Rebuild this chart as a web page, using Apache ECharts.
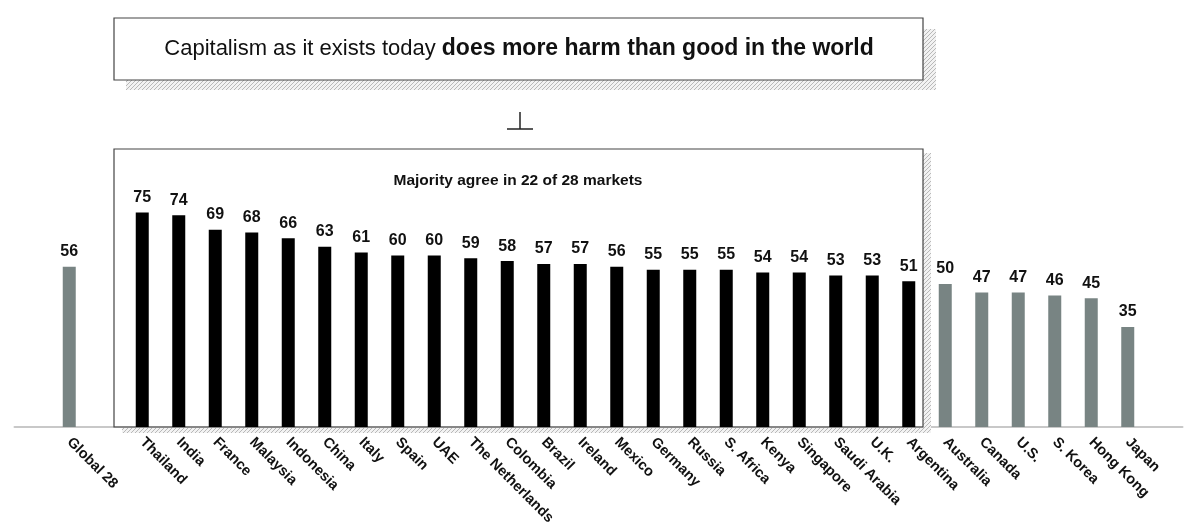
<!DOCTYPE html>
<html>
<head>
<meta charset="utf-8">
<script src="https://cdn.jsdelivr.net/npm/echarts@6/dist/echarts.min.js"></script>
<style>
  html, body { margin: 0; padding: 0; background: #fff; }
  #chart { width: 1200px; height: 529px; }
</style>
</head>
<body>
<div id="chart"></div>
<script>
// '' entries are spacer slots on the axis
const markets = ['', 'Global 28', '', 'Thailand', 'India', 'France', 'Malaysia', 'Indonesia', 'China', 'Italy',
  'Spain', 'UAE', 'The Netherlands', 'Colombia', 'Brazil', 'Ireland', 'Mexico', 'Germany', 'Russia',
  'S. Africa', 'Kenya', 'Singapore', 'Saudi Arabia', 'U.K.', 'Argentina', 'Australia', 'Canada',
  'U.S.', 'S. Korea', 'Hong Kong', 'Japan', ''];
const agree = [null, 56, null, 75, 74, 69, 68, 66, 63, 61, 60, 60, 59, 58, 57, 57, 56, 55, 55, 55, 54, 54,
  53, 53, 51, 50, 47, 47, 46, 45, 35, null];
const majorityFrom = 'Thailand';
const majorityTo = 'Argentina';

const titleNormal = 'Capitalism as it exists today ';
const titleBold = 'does more harm than good in the world';
const boxNote = 'Majority agree in 22 of 28 markets';

const BLACK = '#000000';
const GREY = '#788483';

function hatch() {
  const c = document.createElement('canvas');
  c.width = 4; c.height = 4;
  const g = c.getContext('2d');
  g.fillStyle = '#f2f2f2';
  g.fillRect(0, 0, 4, 4);
  g.strokeStyle = '#b8b8b8';
  g.lineWidth = 1;
  g.beginPath();
  g.moveTo(0, 4); g.lineTo(4, 0);
  g.moveTo(-1, 1); g.lineTo(1, -1);
  g.moveTo(3, 5); g.lineTo(5, 3);
  g.stroke();
  return { image: c, repeat: 'repeat' };
}

const i0 = markets.indexOf(majorityFrom);
const i1 = markets.indexOf(majorityTo);
const barData = agree.map((v, i) => ({
  value: v,
  itemStyle: { color: (i >= i0 && i <= i1) ? BLACK : GREY }
}));

const chart = echarts.init(document.getElementById('chart'));
const pat = hatch();

chart.setOption({
  animation: false,
  grid: { left: 14.5, right: 17.5, top: 141, bottom: 102 },
  xAxis: {
    type: 'category',
    data: markets,
    axisLine: { lineStyle: { color: '#c8c8c8', width: 2 } },
    axisTick: { show: false },
    axisLabel: {
      interval: 0,
      rotate: -45,
      margin: 13,
      color: '#111',
      fontFamily: 'Liberation Sans',
      fontWeight: 'bold',
      fontSize: 14.5
    }
  },
  yAxis: {
    type: 'value',
    min: 0,
    max: 100,
    show: false,
    splitLine: { show: false }
  },
  series: [{
    type: 'bar',
    data: barData,
    barWidth: 13,
    z: 5,
    label: {
      show: true,
      position: 'top',
      distance: 7,
      color: '#111',
      fontFamily: 'Liberation Sans',
      fontWeight: 'bold',
      fontSize: 16
    }
  }],
  graphic: [
    // title box shadow + box
    { type: 'rect', shape: { x: 126, y: 29, width: 810, height: 61 }, style: { fill: pat }, z: 1 },
    { type: 'rect', shape: { x: 114, y: 18, width: 809, height: 62 }, style: { fill: '#fff', stroke: '#444', lineWidth: 1.2 }, z: 2 },
    {
      type: 'text', x: 519, y: 49, z: 3,
      style: {
        text: '{n|' + titleNormal + '}{b|' + titleBold + '}',
        align: 'center',
        verticalAlign: 'middle',
        rich: {
          n: { fontFamily: 'Liberation Sans', fontSize: 22, fill: '#111' },
          b: { fontFamily: 'Liberation Sans', fontSize: 23, fontWeight: 'bold', fill: '#111' }
        }
      }
    },
    // connector
    { type: 'line', shape: { x1: 520, y1: 112, x2: 520, y2: 129 }, style: { stroke: '#222', lineWidth: 1.5 }, z: 3 },
    { type: 'line', shape: { x1: 507, y1: 129, x2: 533, y2: 129 }, style: { stroke: '#222', lineWidth: 1.5 }, z: 3 },
    // majority box shadow + frame
    { type: 'rect', shape: { x: 923, y: 153, width: 8, height: 279 }, style: { fill: pat }, z: 1 },
    { type: 'rect', shape: { x: 122, y: 428, width: 809, height: 5 }, style: { fill: pat }, z: 1 },
    { type: 'rect', shape: { x: 114, y: 149, width: 809, height: 278 }, style: { fill: 'none', stroke: '#444', lineWidth: 1.2 }, z: 2 },
    {
      type: 'text', x: 518, y: 181, z: 3,
      style: {
        text: boxNote, align: 'center', verticalAlign: 'middle',
        fontFamily: 'Liberation Sans', fontSize: 15.5, fontWeight: 'bold', fill: '#111'
      }
    }
  ]
});
</script>
</body>
</html>
